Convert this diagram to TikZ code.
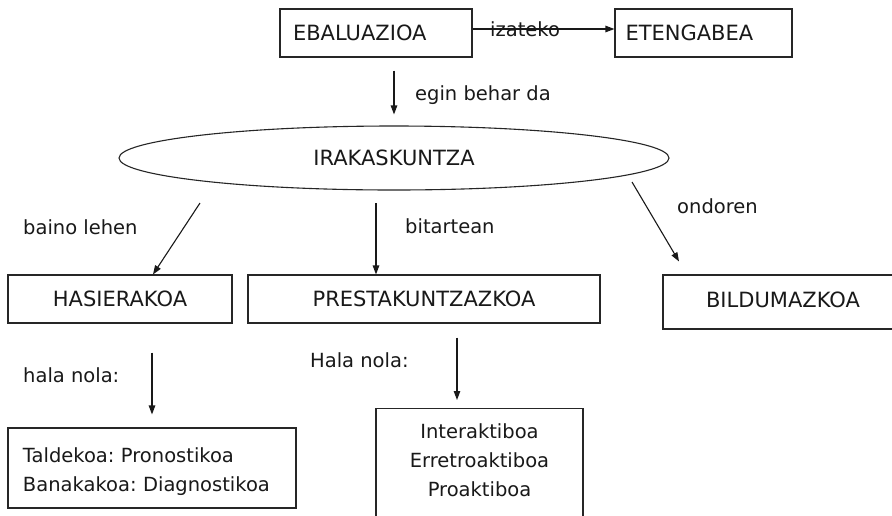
\documentclass[tikz,border=0pt]{standalone}
\usepackage{fontspec}
\setmainfont{DejaVu Sans}
\usetikzlibrary{arrows.meta,shapes.geometric}
\frenchspacing
\begin{document}
\begin{tikzpicture}[x=1pt,y=-1pt,
  every node/.style={text=black!90},
  boxst/.style={draw=black!85, line width=1.1pt, rectangle, inner sep=0pt},
  capf/.style={font=\fontsize{21}{25}\selectfont},
  lowf/.style={font=\fontsize{19.5}{29}\selectfont},
  arr/.style={draw=black!90, line width=1.1pt, -{Triangle[length=9pt,width=6.5pt]}},
  lbl/.style={lowf, inner sep=0pt, anchor=base west}]
\clip (0,0) rectangle (892,515);
\fill[white] (0,0) rectangle (892,515);

% top row
\node[boxst, capf, minimum height=48pt, text width=166pt, inner xsep=13pt, align=left] (eb) at (376,33) {EBALUAZIOA};
\node[boxst, capf, minimum height=48pt, text width=156pt, inner xsep=10.5pt, align=left] (et) at (703.5,33) {ETENGABEA};

% ellipse
\node[ellipse, draw=black!85, line width=1.1pt, minimum width=550pt, minimum height=64pt, inner sep=0pt, capf] (ir) at (394,158) {IRAKASKUNTZA};

% middle row
\node[boxst, capf, minimum width=224pt, minimum height=48pt] (has) at (120,299) {HASIERAKOA};
\node[boxst, capf, minimum width=352pt, minimum height=48pt] (pre) at (424,299) {PRESTAKUNTZAZKOA};
\node[boxst, capf, minimum width=240pt, minimum height=54pt, text depth=5pt] (bil) at (783,302) {BILDUMAZKOA};

% bottom row
\node[boxst, lowf, minimum width=288pt, minimum height=80pt, text width=258pt, inner xsep=15pt, align=left] (tal) at (152,468) {\rule{0pt}{21.3pt}Taldekoa: Pronostikoa\\Banakakoa: Diagnostikoa};
\node[boxst, minimum width=207pt, minimum height=140pt, anchor=north] (probox) at (479.5,408) {};
\node[lowf, align=center, inner sep=0pt] (protext) at (479.5,460.6) {Interaktiboa\\Erretroaktiboa\\Proaktiboa};

% labels
\node[lbl] (iz) at (490,36) {izateko};
\node[lbl] (egin) at (415,100.5) {egin behar da};
\node[lbl] (bl) at (23,234) {baino lehen};
\node[lbl] (bit) at (405,233) {bitartean};
\node[lbl] (ond) at (677,213) {ondoren};
\node[lbl] (hn1) at (23,382) {hala nola:};
\node[lbl] (hn2) at (310,367) {Hala nola:};

% connectors
\draw[arr] ([yshift=4pt]eb.east) -- ([yshift=4pt]et.west);
\draw[arr, shorten <=13pt, shorten >=11pt] (eb.south -| ir.north) -- (ir.north);
\draw[arr] ([xshift=-194pt,yshift=-45pt]ir.center) -- ([xshift=33pt]has.north);
\draw[arr] ([xshift=-18pt,yshift=-45pt]ir.center) -- ([xshift=-48pt]pre.north);
\draw[arr] ([xshift=238pt,yshift=-24pt]ir.center) -- ([xshift=-104pt,yshift=13pt]bil.north);
\draw[arr] ([xshift=32pt,yshift=-29pt]has.south) -- ([yshift=13pt]tal.north);
\draw[arr] ([xshift=33pt,yshift=-14pt]pre.south) -- ([xshift=-22.5pt,yshift=8pt]probox.north);
\end{tikzpicture}
\end{document}
